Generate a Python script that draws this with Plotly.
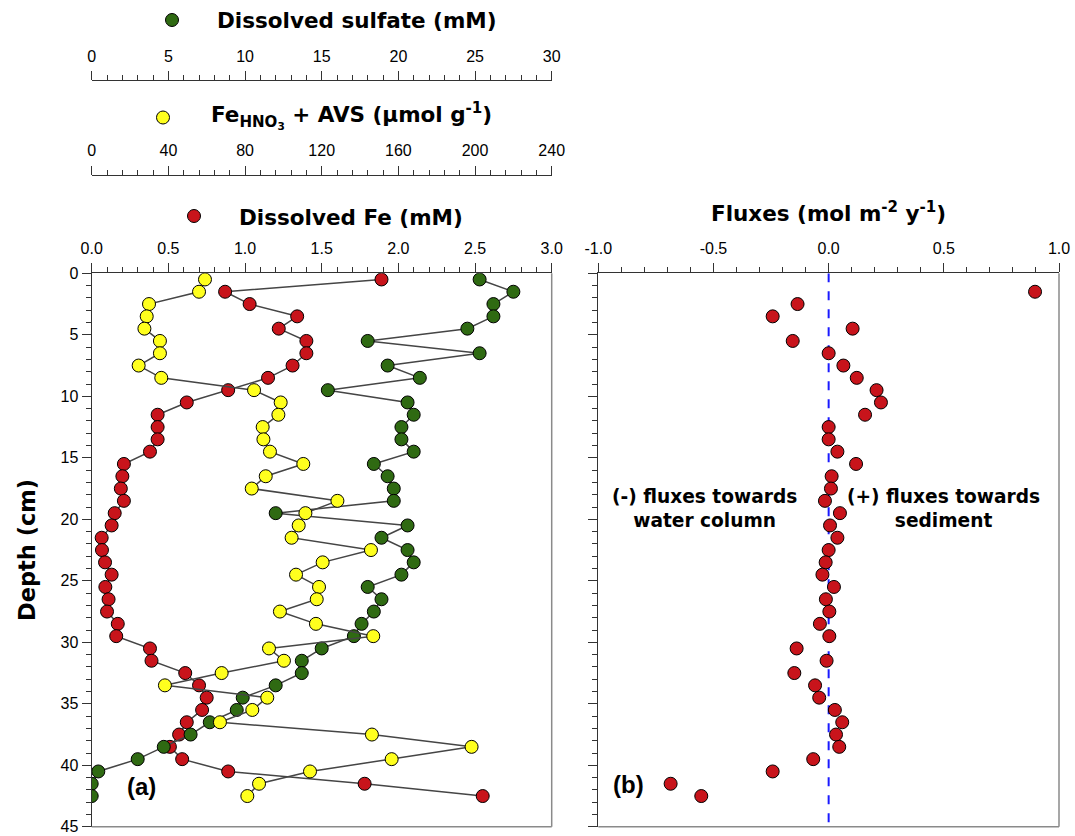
import plotly.graph_objects as go

# ---------------- data ----------------
depth = [0.5, 1.5, 2.5, 3.5, 4.5, 5.5, 6.5, 7.5, 8.5, 9.5, 10.5, 11.5, 12.5, 13.5, 14.5,
         15.5, 16.5, 17.5, 18.5, 19.5, 20.5, 21.5, 22.5, 23.5, 24.5, 25.5, 26.5, 27.5, 28.5,
         29.5, 30.5, 31.5, 32.5, 33.5, 34.5, 35.5, 36.5, 37.5, 38.5, 39.5, 40.5, 41.5, 42.5]

dissolved_fe = [1.89, 0.87, 1.03, 1.34, 1.22, 1.40, 1.40, 1.31, 1.15, 0.89, 0.62, 0.43, 0.43, 0.43, 0.38,
                0.21, 0.20, 0.19, 0.21, 0.15, 0.13, 0.065, 0.067, 0.087, 0.13, 0.089, 0.11, 0.10, 0.17,
                0.16, 0.38, 0.39, 0.61, 0.70, 0.75, 0.72, 0.62, 0.57, 0.51, 0.59, 0.89, 1.78, 2.55]

fe_hno3_avs = [59.1, 56.0, 29.9, 28.7, 27.5, 35.6, 35.6, 24.5, 36.3, 84.7, 98.6, 97.4, 89.2, 89.6, 93.0,
               110.4, 90.8, 83.5, 128.2, 111.5, 108.0, 104.3, 145.7, 120.5, 106.6, 118.6, 117.4, 98.2, 117.0,
               146.9, 92.5, 100.3, 67.8, 38.2, 91.6, 83.8, 66.9, 146.2, 198.2, 156.5, 113.9, 87.3, 81.2]

sulfate = [25.3, 27.5, 26.2, 26.2, 24.5, 18.0, 25.3, 19.3, 21.4, 15.4, 20.6, 21.0, 20.2, 20.2, 21.0,
           18.4, 19.3, 19.7, 19.7, 12.0, 20.6, 18.9, 20.6, 21.0, 20.2, 18.0, 18.9, 18.4, 17.6,
           17.1, 15.0, 13.7, 13.7, 12.0, 9.85, 9.46, 7.7, 6.45, 4.7, 3.0, 0.43, 0.0, 0.0]

flux_depth = depth[1:]
flux = [0.896, -0.135, -0.243, 0.104, -0.156, 0.0, 0.064, 0.122, 0.208, 0.227, 0.158, 0.0, 0.0, 0.038,
        0.119, 0.013, 0.010, -0.016, 0.049, 0.006, 0.038, 0.0, -0.013, -0.027, 0.023, -0.012, 0.003,
        -0.038, 0.003, -0.139, -0.009, -0.149, -0.059, -0.041, 0.027, 0.059, 0.032, 0.046, -0.067,
        -0.243, -0.686, -0.553]

flux_ticks = [-1.0, -0.5, 0.0, 0.5, 1.0]
flux_ticklabels = ["-1.0", "-0.5", "0.0", "0.5", "1.0"]

# ---------------- style ----------------
W, H = 1075, 836
FONT = "Liberation Sans, Arial, sans-serif"
BFONT = "DejaVu Sans, Liberation Sans, sans-serif"
RED = "#C8141B"
GREEN = "#2F6A12"
YELLOW = "#FFFF1E"
LINE = "#454545"

xa_l, xa_r = 91.7, 551.7
xb_l, xb_r = 598.3, 1059.0
y_top, y_bot = 273.3, 826.8


def px_x(p):
    return p / W


def px_y(p):
    return (H - p) / H


dom_a = [px_x(xa_l), px_x(xa_r)]
dom_b = [px_x(xb_l), px_x(xb_r)]
dom_y = [px_y(y_bot), px_y(y_top)]

mk = dict(size=13, line=dict(color="black", width=1))

fig = go.Figure()

fig.add_trace(go.Scatter(x=sulfate, y=depth, xaxis="x3", yaxis="y", mode="lines+markers",
                         line=dict(color=LINE, width=1.5), marker=dict(color=GREEN, **mk),
                         showlegend=False))
fig.add_trace(go.Scatter(x=fe_hno3_avs, y=depth, xaxis="x4", yaxis="y", mode="lines+markers",
                         line=dict(color=LINE, width=1.5), marker=dict(color=YELLOW, **mk),
                         showlegend=False))
fig.add_trace(go.Scatter(x=dissolved_fe, y=depth, xaxis="x", yaxis="y", mode="lines+markers",
                         line=dict(color=LINE, width=1.5), marker=dict(color=RED, **mk),
                         showlegend=False))
fig.add_trace(go.Scatter(x=flux, y=flux_depth, xaxis="x2", yaxis="y2", mode="markers",
                         marker=dict(color=RED, **mk), showlegend=False))

tickfont = dict(family=FONT, size=16, color="black")
common = dict(showgrid=False, zeroline=False, showline=True, linecolor="#333", linewidth=1.2,
              ticks="outside", ticklen=9, tickwidth=1, tickcolor="#333", tickfont=tickfont,
              automargin=False)
mnr = lambda d: dict(dtick=d, ticks="outside", ticklen=5, tickcolor="#333", tickwidth=1)

fig.update_layout(
    width=W, height=H,
    margin=dict(l=0, r=0, t=0, b=0),
    paper_bgcolor="white", plot_bgcolor="white",
    xaxis=dict(domain=dom_a, anchor="y", side="top", range=[0, 3], dtick=0.5, tickformat=".1f",
               ticklabelstandoff=3, minor=mnr(0.1), **common),
    xaxis2=dict(domain=dom_b, anchor="y2", side="top", range=[-1, 1], tickmode="array",
                tickvals=flux_ticks, ticktext=flux_ticklabels, ticklabelstandoff=3, minor=mnr(0.1), **common),
    xaxis3=dict(overlaying="x", anchor="free", position=px_y(80), side="top", range=[0, 30], dtick=5,
                ticklabelstandoff=3, minor=mnr(1), **common),
    xaxis4=dict(overlaying="x", anchor="free", position=px_y(175), side="top", range=[0, 240], dtick=40,
                ticklabelstandoff=4, minor=mnr(8), **common),
    yaxis=dict(domain=dom_y, anchor="x", range=[45, 0], dtick=5, minor=mnr(1), **common),
    yaxis2=dict(domain=dom_y, anchor="x2", range=[45, 0], dtick=5, showticklabels=False,
                minor=mnr(1), **common),
)

shapes = []
for xr, yr in (("x domain", "y domain"), ("x2 domain", "y2 domain")):
    shapes.append(dict(type="line", xref=xr, yref=yr, x0=1, x1=1, y0=0, y1=1,
                       line=dict(color="#8a8a8a", width=1.5)))
    shapes.append(dict(type="line", xref=xr, yref=yr, x0=0, x1=1, y0=0, y1=0,
                       line=dict(color="#8a8a8a", width=1.5)))
shapes.append(dict(type="line", xref="x2", yref="y2", x0=0, x1=0, y0=0, y1=45,
                   line=dict(color="#1a1aff", width=2, dash="dash"), layer="below"))
# legend symbols beside the axis titles
for cx, cy, col in ((172, 20, GREEN), (163, 117.5, YELLOW), (194, 216, RED)):
    shapes.append(dict(type="circle", xref="paper", yref="paper", xsizemode="pixel", ysizemode="pixel",
                       xanchor=px_x(cx), yanchor=px_y(cy), x0=-6.5, x1=6.5, y0=-6.5, y1=6.5,
                       fillcolor=col, line=dict(color="black", width=1)))
fig.update_layout(shapes=shapes)

tfont = dict(family=BFONT, size=21.5, color="black")
ann = [
    dict(text="<b>Dissolved sulfate (mM)</b>", x=px_x(357), y=px_y(20.5)),
    dict(text="<b>Fe<sub>HNO<sub>3</sub></sub> + AVS (µmol g<sup>-1</sup>)</b>", x=px_x(351), y=px_y(116)),
    dict(text="<b>Dissolved Fe (mM)</b>", x=px_x(351), y=px_y(217)),
    dict(text="<b>Fluxes (mol m<sup>-2</sup> y<sup>-1</sup>)</b>", x=px_x(828), y=px_y(212)),
    dict(text="<b>Depth (cm)</b>", x=px_x(27), y=px_y(550), textangle=-90,
         font=dict(family=BFONT, size=22.5, color="black")),
]
for a in ann:
    a.setdefault("font", tfont)
    a.update(xref="paper", yref="paper", showarrow=False, xanchor="center", yanchor="middle")
sfont = dict(family=BFONT, size=18.6, color="black")
ann += [
    dict(text="<b>(-) fluxes towards<br>water column</b>", xref="x2", yref="y2", x=-0.537, y=19.1,
         showarrow=False, font=sfont, align="center"),
    dict(text="<b>(+) fluxes towards<br>sediment</b>", xref="x2", yref="y2", x=0.50, y=19.1,
         showarrow=False, font=sfont, align="center"),
    dict(text="<b>(a)</b>", xref="paper", yref="paper", x=px_x(125), y=px_y(802), showarrow=False,
         font=dict(family=FONT, size=24, color="black")),
    dict(text="<b>(b)</b>", xref="paper", yref="paper", x=px_x(628), y=px_y(800), showarrow=False,
         font=dict(family=FONT, size=24, color="black")),
]
fig.update_layout(annotations=ann)

fig.write_html("out.html", config={"displayModeBar": False},
               post_script="document.body.style.margin='0';")
